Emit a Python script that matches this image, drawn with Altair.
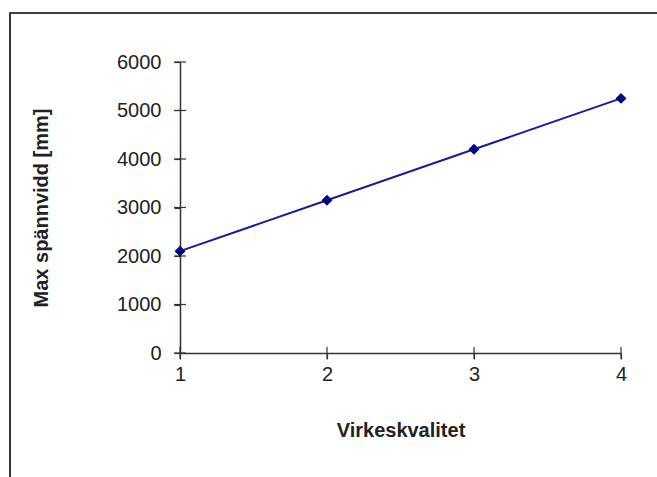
import altair as alt
import pandas as pd

# Max span per timber grade
grades = [1, 2, 3, 4]
max_span = [2100, 3150, 4200, 5250]
y_ticks = [0, 1000, 2000, 3000, 4000, 5000, 6000]

df = pd.DataFrame({"grade": grades, "span": max_span})
x_tick_df = pd.DataFrame({"grade": grades})
y_tick_df = pd.DataFrame({"span": y_ticks})

FONT = "Liberation Sans"
W, H = 441, 291
AXIS_COLOR = "#333333"

x_scale = alt.Scale(domain=[1, 4], nice=False, zero=False)
y_scale = alt.Scale(domain=[0, 6000], nice=False)

x_enc = alt.X(
    "grade:Q", scale=x_scale,
    axis=alt.Axis(
        values=grades, format="d", title="Virkeskvalitet", grid=False,
        tickSize=6, labelPadding=5, titlePadding=36, labelFlush=False,
    ),
)
y_enc = alt.Y(
    "span:Q", scale=y_scale,
    axis=alt.Axis(
        values=y_ticks, format="d", title="Max spännvidd [mm]",
        grid=False, tickSize=6, labelPadding=13, titlePadding=65, labelFlush=False,
    ),
)

line = alt.Chart(df).mark_line(color="#1c1c96", strokeWidth=2).encode(x=x_enc, y=y_enc)
points = alt.Chart(df).mark_point(
    shape="diamond", filled=True, size=120, color="#000080", opacity=1
).encode(x=x_enc, y=y_enc)

# cross ticks straddling both axis lines
x_cross = alt.Chart(x_tick_df).mark_tick(
    color=AXIS_COLOR, thickness=1.2, size=12, opacity=1, clip=False
).encode(x=x_enc, y=alt.value(H))
y_cross = alt.Chart(y_tick_df).mark_tick(
    color=AXIS_COLOR, thickness=1.2, size=12, opacity=1, clip=False
).encode(y=y_enc, x=alt.value(0))

# outer frame around the chart
frame = alt.Chart(df).mark_rect(
    fill=None, stroke=AXIS_COLOR, strokeWidth=1.2, clip=False
).encode(
    x=alt.value(-170), x2=alt.value(480), y=alt.value(-49), y2=alt.value(430)
)

chart = (
    alt.layer(frame, line, x_cross, y_cross, points)
    .properties(
        width=W, height=H,
        autosize=alt.AutoSizeParams(type="none"),
        padding={"left": 180, "top": 62, "right": 36, "bottom": 124},
        background="white",
    )
    .configure_view(stroke=None)
    .configure_axis(
        labelFont=FONT, titleFont=FONT, labelFontSize=20, titleFontSize=20,
        labelColor="#222222", titleColor="#222222", titleFontWeight="bold",
        domainColor=AXIS_COLOR, tickColor=AXIS_COLOR, domainWidth=1.5, tickWidth=1.2,
    )
)

chart.save("out.html", embed_options={"renderer": "svg", "actions": False})
